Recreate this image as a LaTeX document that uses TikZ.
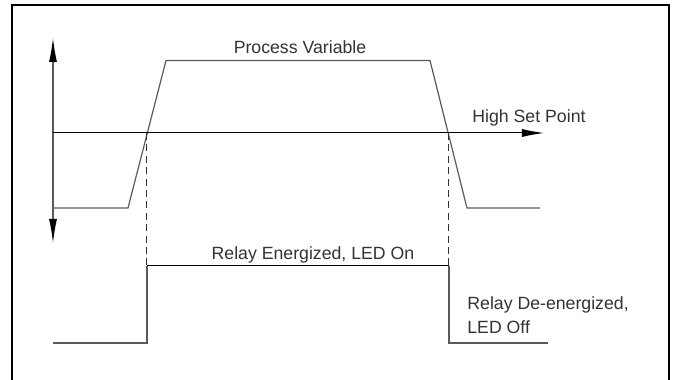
\documentclass[tikz,border=0pt]{standalone}
\usepackage{fontspec}
\setmainfont{Liberation Sans}
\usetikzlibrary{arrows.meta}
\definecolor{linegray}{HTML}{5A5A5A}
\definecolor{txtgray}{HTML}{333333}
\begin{document}
\begin{tikzpicture}[x=0.5pt,y=-0.5pt,
  lbl/.style={inner sep=0pt,text=txtgray,font=\fontsize{8.85}{11.8}\selectfont},
  curve/.style={draw=linegray,line width=0.6pt,line join=miter},
  setline/.style={draw=black,line width=0.5pt},
  guide/.style={draw=black!80,line width=0.5pt,dash pattern=on 3.5pt off 2.2pt},
  tip/.style={-{Latex[length=11pt,width=4pt,color=black]}},
  frameline/.style={draw=black,line width=1pt}]
\useasboundingbox (0,0) rectangle (677,380);
% frame (bottom edge lies outside the picture)
\coordinate (fbl) at (12.5,382);
\coordinate (ftl) at (12.5,5);
\coordinate (ftr) at (669,5);
\coordinate (fbr) at (669,382);
\draw[frameline] (fbl) -- (ftl) -- (ftr) -- (fbr);
% vertical axis
\coordinate (axT) at (53,38);
\coordinate (axB) at (53,243);
\draw[draw=linegray,line width=0.6pt,{Latex[length=12pt,width=4pt,color=black]}-{Latex[length=12pt,width=4pt,color=black]}] (axB) -- (axT);
% process variable
\coordinate (p0) at (53,208);
\coordinate (p1) at (128,208);
\coordinate (p2) at (166,60.5);
\coordinate (p3) at (430,60.5);
\coordinate (p4) at (467,208);
\coordinate (p5) at (540,208);
\draw[curve] (p0) -- (p1) -- (p2) -- (p3) -- (p4) -- (p5);
% set point
\coordinate (s0) at (53,133);
\coordinate (s1) at (544,133);
\draw[setline,tip] (s0) -- (s1);
% crossings
\coordinate (c1) at (147,133);
\coordinate (c2) at (449,133);
\coordinate (d1) at (147,266);
\coordinate (d2) at (449,266);
\draw[guide] (c1) -- (d1);
\draw[guide] (c2) -- (d2);
% relay
\coordinate (r0) at (53,343);
\coordinate (r1) at (147,343);
\coordinate (r4) at (449,343);
\coordinate (r5) at (548,343);
\draw[curve] (r0) -- (r1) -- (d1);
\draw[setline] (d1) -- (d2);
\draw[curve] (d2) -- (r4) -- (r5);
% labels
\node[lbl,anchor=base] (pv) at (300,54) {Process Variable};
\node[lbl,anchor=base west] (hsp) at (472,122) {High Set Point};
\node[lbl,anchor=base] (ron) at (313,260) {Relay Energized, LED On};
\node[lbl,anchor=base west] (roff1) at (467,310) {Relay De-energized,};
\node[lbl,anchor=base west] (roff2) at (467,333.5) {LED Off};
\end{tikzpicture}
\end{document}
